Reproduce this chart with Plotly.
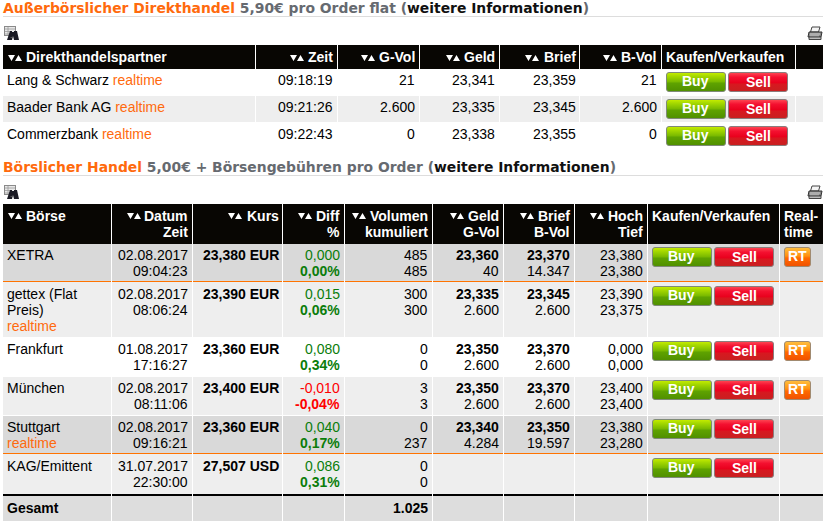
import base64
import plotly.graph_objects as go

# ---------- data ----------
direct_partner = ["Lang &amp; Schwarz", "Baader Bank AG", "Commerzbank"]
direct_zeit = ["09:18:19", "09:21:26", "09:22:43"]
direct_gvol = ["21", "2.600", "0"]
direct_geld = ["23,341", "23,335", "23,338"]
direct_brief = ["23,359", "23,345", "23,355"]
direct_bvol = ["21", "2.600", "0"]

boerse = ["XETRA", "gettex (Flat", "Frankfurt", "München", "Stuttgart", "KAG/Emittent"]
boerse_line2 = ["", "Preis)", "", "", "", ""]
boerse_rt_tag = [False, True, False, False, True, False]
datum = ["02.08.2017", "02.08.2017", "01.08.2017", "02.08.2017", "02.08.2017", "31.07.2017"]
zeit = ["09:04:23", "08:06:24", "17:16:27", "08:11:06", "09:16:21", "22:30:00"]
kurs = ["23,380 EUR", "23,390 EUR", "23,360 EUR", "23,400 EUR", "23,360 EUR", "27,507 USD"]
diff = ["0,000", "0,015", "0,080", "-0,010", "0,040", "0,086"]
diff_pct = ["0,00%", "0,06%", "0,34%", "-0,04%", "0,17%", "0,31%"]
vol_a = ["485", "300", "0", "3", "0", "0"]
vol_b = ["485", "300", "0", "3", "237", "0"]
geld = ["23,360", "23,335", "23,350", "23,350", "23,340", ""]
gvol = ["40", "2.600", "2.600", "2.600", "4.284", ""]
brief = ["23,370", "23,345", "23,370", "23,370", "23,350", ""]
bvol = ["14.347", "2.600", "2.600", "2.600", "19.597", ""]
hoch = ["23,380", "23,390", "0,000", "23,400", "23,380", ""]
tief = ["23,380", "23,375", "0,000", "23,400", "23,280", ""]
has_rt = [True, False, True, True, False, False]
gesamt_label = "Gesamt"
gesamt_vol = "1.025"

# ---------- style / layout ----------
ORANGE = "#ff6a0d"
GREY = "#666a70"
BLACK = "#080603"
GREEN = "#0b7d0b"
BODY = "Liberation Sans, Arial, sans-serif"
TITLE = "DejaVu Sans, Verdana, sans-serif"

t1_seps = [255, 337, 419, 499, 579, 661, 795]
t2_seps = [111, 192, 282, 344, 432, 503, 574, 647, 779]
t1_rows = [(69, 96, "#ffffff"), (96, 122, "#eeeeee"), (122, 149, "#ffffff")]
t1_text_y = [80, 107, 134]
t1_btn_y = [72, 99, 126]
t2_rows = [(244, 281, "#d9d9d9"), (282, 337, "#eeeeee"), (337, 377, "#ffffff"),
           (377, 415, "#eeeeee"), (416, 453, "#d9d9d9"), (454, 494, "#eeeeee")]
t2_text_y = [255, 294, 349, 388, 427, 466]
t2_btn_y = [247, 286, 341, 380, 419, 458]

shapes, ann, images = [], [], []


def rect(x0, y0, x1, y1, color):
    shapes.append(dict(type="rect", xref="x", yref="y", x0=x0, y0=y0, x1=x1, y1=y1,
                       fillcolor=color, line=dict(width=0), layer="below"))


def text(x, y, s, anchor="left", size=14, color="#000000", font=BODY):
    if anchor == "right":
        x += 0.5
    ann.append(dict(x=x, y=y, xref="x", yref="y", text=s, showarrow=False, xanchor=anchor,
                    yanchor="middle", align=anchor, borderpad=0, borderwidth=0,
                    font=dict(family=font, size=size, color=color)))


def sort_arrows(x, y):
    """Small white down/up triangles used as the sort control in table headers."""
    shapes.append(dict(type="path", xref="x", yref="y", layer="above", fillcolor="#ffffff",
                       line=dict(width=0),
                       path=f"M{x},{y} L{x+7},{y} L{x+3.5},{y+6} Z "
                            f"M{x+7},{y+6} L{x+14},{y+6} L{x+10.5},{y} Z"))


def svg_image(svg, x, y, w, h):
    uri = "data:image/svg+xml;base64," + base64.b64encode(svg.encode()).decode()
    images.append(dict(source=uri, xref="x", yref="y", x=x, y=y, sizex=w, sizey=h,
                       sizing="stretch", xanchor="left", yanchor="top", layer="above"))


def button(x, y, w, h, stops, border):
    st = "".join(f'<stop offset="{o}" stop-color="{c}"/>' for o, c in stops)
    svg = (f'<svg xmlns="http://www.w3.org/2000/svg" width="{w}" height="{h}" viewBox="0 0 {w} {h}">'
           f'<defs><linearGradient id="g" x1="0" y1="0" x2="0" y2="1">{st}</linearGradient></defs>'
           f'<rect x="0.5" y="0.5" width="{w-1}" height="{h-1}" rx="2.5" fill="url(#g)" stroke="{border}"/></svg>')
    svg_image(svg, x, y, w, h)


BUY = [(0, "#c8ee00"), (0.2, "#a4d800"), (0.5, "#78b800"), (0.55, "#5fa300"), (1, "#4f8f00")]
SELL = [(0, "#ff4a55"), (0.25, "#f41030"), (0.55, "#e8001c"), (0.6, "#d81820"), (1, "#c82020")]
RT = [(0, "#ffc040"), (0.45, "#ff9010"), (0.55, "#ff6a00"), (1, "#f05000")]


def buy_sell(xb, xs, y):
    button(xb, y, 60, 20, BUY, "#7f8a78")
    button(xs, y, 60, 20, SELL, "#8c7c7c")
    text(xb + 29.5, y + 9, "<b>Buy</b>", "center", color="#ffffff")
    text(xs + 30, y + 10, "<b>Sell</b>", "center", color="#ffffff")


BINOC = ('<svg xmlns="http://www.w3.org/2000/svg" width="16" height="15" viewBox="0 0 16 15">'
         '<rect x="0.5" y="0.5" width="11" height="9" fill="#e8e8e8" stroke="#8a8a8a"/>'
         '<path d="M1 3h10M1 5.5h5M1 8h5M4 1v8" stroke="#9a9a9a" stroke-width="0.8"/>'
         '<path d="M6 5h2v1h2V5h3l2 9h-5l-1-4H9l-1 4H3z" fill="#1a1a24"/>'
         '<rect x="6.5" y="11" width="2" height="1" fill="#555"/></svg>')
PRINT = ('<svg xmlns="http://www.w3.org/2000/svg" width="16" height="15" viewBox="0 0 16 15">'
         '<path d="M5 1h8l-1.5 5H3.5z" fill="#f4f4f4" stroke="#444"/>'
         '<path d="M2 6h13l-1 5H1z" fill="#8a8a8a" stroke="#333"/>'
         '<path d="M3 8h10M3 10h9" stroke="#eee" stroke-width="0.7"/>'
         '<path d="M2 11h12v2.5H2z" fill="#bcbcbc" stroke="#444"/></svg>')


def head(right, y, s):
    text(right, y, "<b>" + s + "</b>", "right", color="#ffffff")


# ---------- section 1 ----------
text(3, 8, f"<b><span style='color:{ORANGE}'>Außerbörslicher Direkthandel</span> "
     f"<span style='color:{GREY}'>5,90€ pro Order flat (</span>weitere Informationen"
     f"<span style='color:{GREY}'>)</span></b>", size=13.9, font=TITLE, color="#111111")
rect(3, 16, 823, 17, "#dddddd")
svg_image(BINOC, 4, 26, 16, 15)
svg_image(PRINT, 807, 26, 16, 15)
rect(3, 45, 823, 69, BLACK)
for y0, y1, c in t1_rows:
    rect(3, y0, 823, y1, c)
for e in t1_seps:
    rect(e, 45, e + 1, 149, "#ffffff")
text(26, 57, "<b>Direkthandelspartner</b>", color="#ffffff")
sort_arrows(8, 55)
for r, s, ax in zip([332, 414, 494, 575, 656], ["Zeit", "G-Vol", "Geld", "Brief", "B-Vol"],
                    [290, 361, 446, 525, 603]):
    head(r, 57, s)
    sort_arrows(ax, 55)
text(666, 57, "<b>Kaufen/Verkaufen</b>", color="#ffffff")
for i, y in enumerate(t1_text_y):
    text(7, y, f"{direct_partner[i]} <span style='color:{ORANGE}'>realtime</span>")
    text(332, y, direct_zeit[i], "right")
    text(414, y, direct_gvol[i], "right")
    text(494, y, direct_geld[i], "right")
    text(575, y, direct_brief[i], "right")
    text(656, y, direct_bvol[i], "right")
    buy_sell(666, 728, t1_btn_y[i])

# ---------- section 2 ----------
text(3, 167, f"<b><span style='color:{ORANGE}'>Börslicher Handel</span> "
     f"<span style='color:{GREY}'>5,00€ + Börsengebühren pro Order (</span>weitere Informationen"
     f"<span style='color:{GREY}'>)</span></b>", size=13.9, font=TITLE, color="#111111")
rect(3, 175, 823, 176, "#dddddd")
svg_image(BINOC, 4, 185, 16, 15)
svg_image(PRINT, 807, 185, 16, 15)
rect(3, 204, 823, 244, BLACK)
for y0, y1, c in t2_rows:
    rect(3, y0, 823, y1, c)
rect(3, 281, 823, 282, "#ff7300")
rect(3, 453, 823, 454, "#ff7300")
rect(3, 494, 823, 496, "#000000")
rect(3, 496, 823, 521, "#dddddd")
for e in t2_seps:
    rect(e, 204, e + 1, 521, "#ffffff")

text(26, 216, "<b>Börse</b>", color="#ffffff")
sort_arrows(8, 213)
for r, top, bottom, ax in zip([187, 278, 339, 427, 498, 569, 642],
                              ["Datum", "Kurs", "Diff", "Volumen", "Geld", "Brief", "Hoch"],
                              ["Zeit", "", "%", "kumuliert", "G-Vol", "B-Vol", "Tief"],
                              [127, 228, 298, 352, 450, 520, 590]):
    head(r, 216, top)
    if bottom:
        head(r, 232, bottom)
    sort_arrows(ax, 213)
text(652, 216, "<b>Kaufen/Verkaufen</b>", color="#ffffff")
text(784, 216, "<b>Real-</b>", color="#ffffff")
text(784, 232, "<b>time</b>", color="#ffffff")

for i, y in enumerate(t2_text_y):
    text(7, y, boerse[i])
    next_y = y + 16
    if boerse_line2[i]:
        text(7, next_y, boerse_line2[i])
        next_y += 16
    if boerse_rt_tag[i]:
        text(7, next_y, "realtime", color=ORANGE)
    text(187, y, datum[i], "right")
    text(187, y + 16, zeit[i], "right")
    text(278, y, "<b>" + kurs[i] + "</b>", "right")
    c = "#ff0000" if diff[i].startswith("-") else GREEN
    text(339, y, diff[i], "right", color=c)
    text(339, y + 16, "<b>" + diff_pct[i] + "</b>", "right", color=c)
    text(427, y, vol_a[i], "right")
    text(427, y + 16, vol_b[i], "right")
    if geld[i]:
        text(498, y, "<b>" + geld[i] + "</b>", "right")
        text(498, y + 16, gvol[i], "right")
        text(569, y, "<b>" + brief[i] + "</b>", "right")
        text(569, y + 16, bvol[i], "right")
        text(642, y, hoch[i], "right")
        text(642, y + 16, tief[i], "right")
    by = t2_btn_y[i]
    buy_sell(652, 714, by)
    if has_rt[i]:
        button(784, by, 27, 20, RT, "#a08a70")
        text(797.5, by + 9, "<b>RT</b>", "center", color="#ffffff")

text(7, 508, "<b>" + gesamt_label + "</b>")
text(427, 508, "<b>" + gesamt_vol + "</b>", "right")

fig = go.Figure()
fig.update_layout(
    width=823, height=521, margin=dict(l=0, r=0, t=0, b=0),
    paper_bgcolor="#ffffff", plot_bgcolor="#ffffff", showlegend=False,
    xaxis=dict(range=[0, 823], visible=False, fixedrange=True),
    yaxis=dict(range=[521, 0], visible=False, fixedrange=True),
    shapes=shapes, annotations=ann, images=images,
)
fig.write_html("out.html", config=dict(displayModeBar=False),
               post_script="document.body.style.margin='0';document.body.style.overflow='hidden';")
